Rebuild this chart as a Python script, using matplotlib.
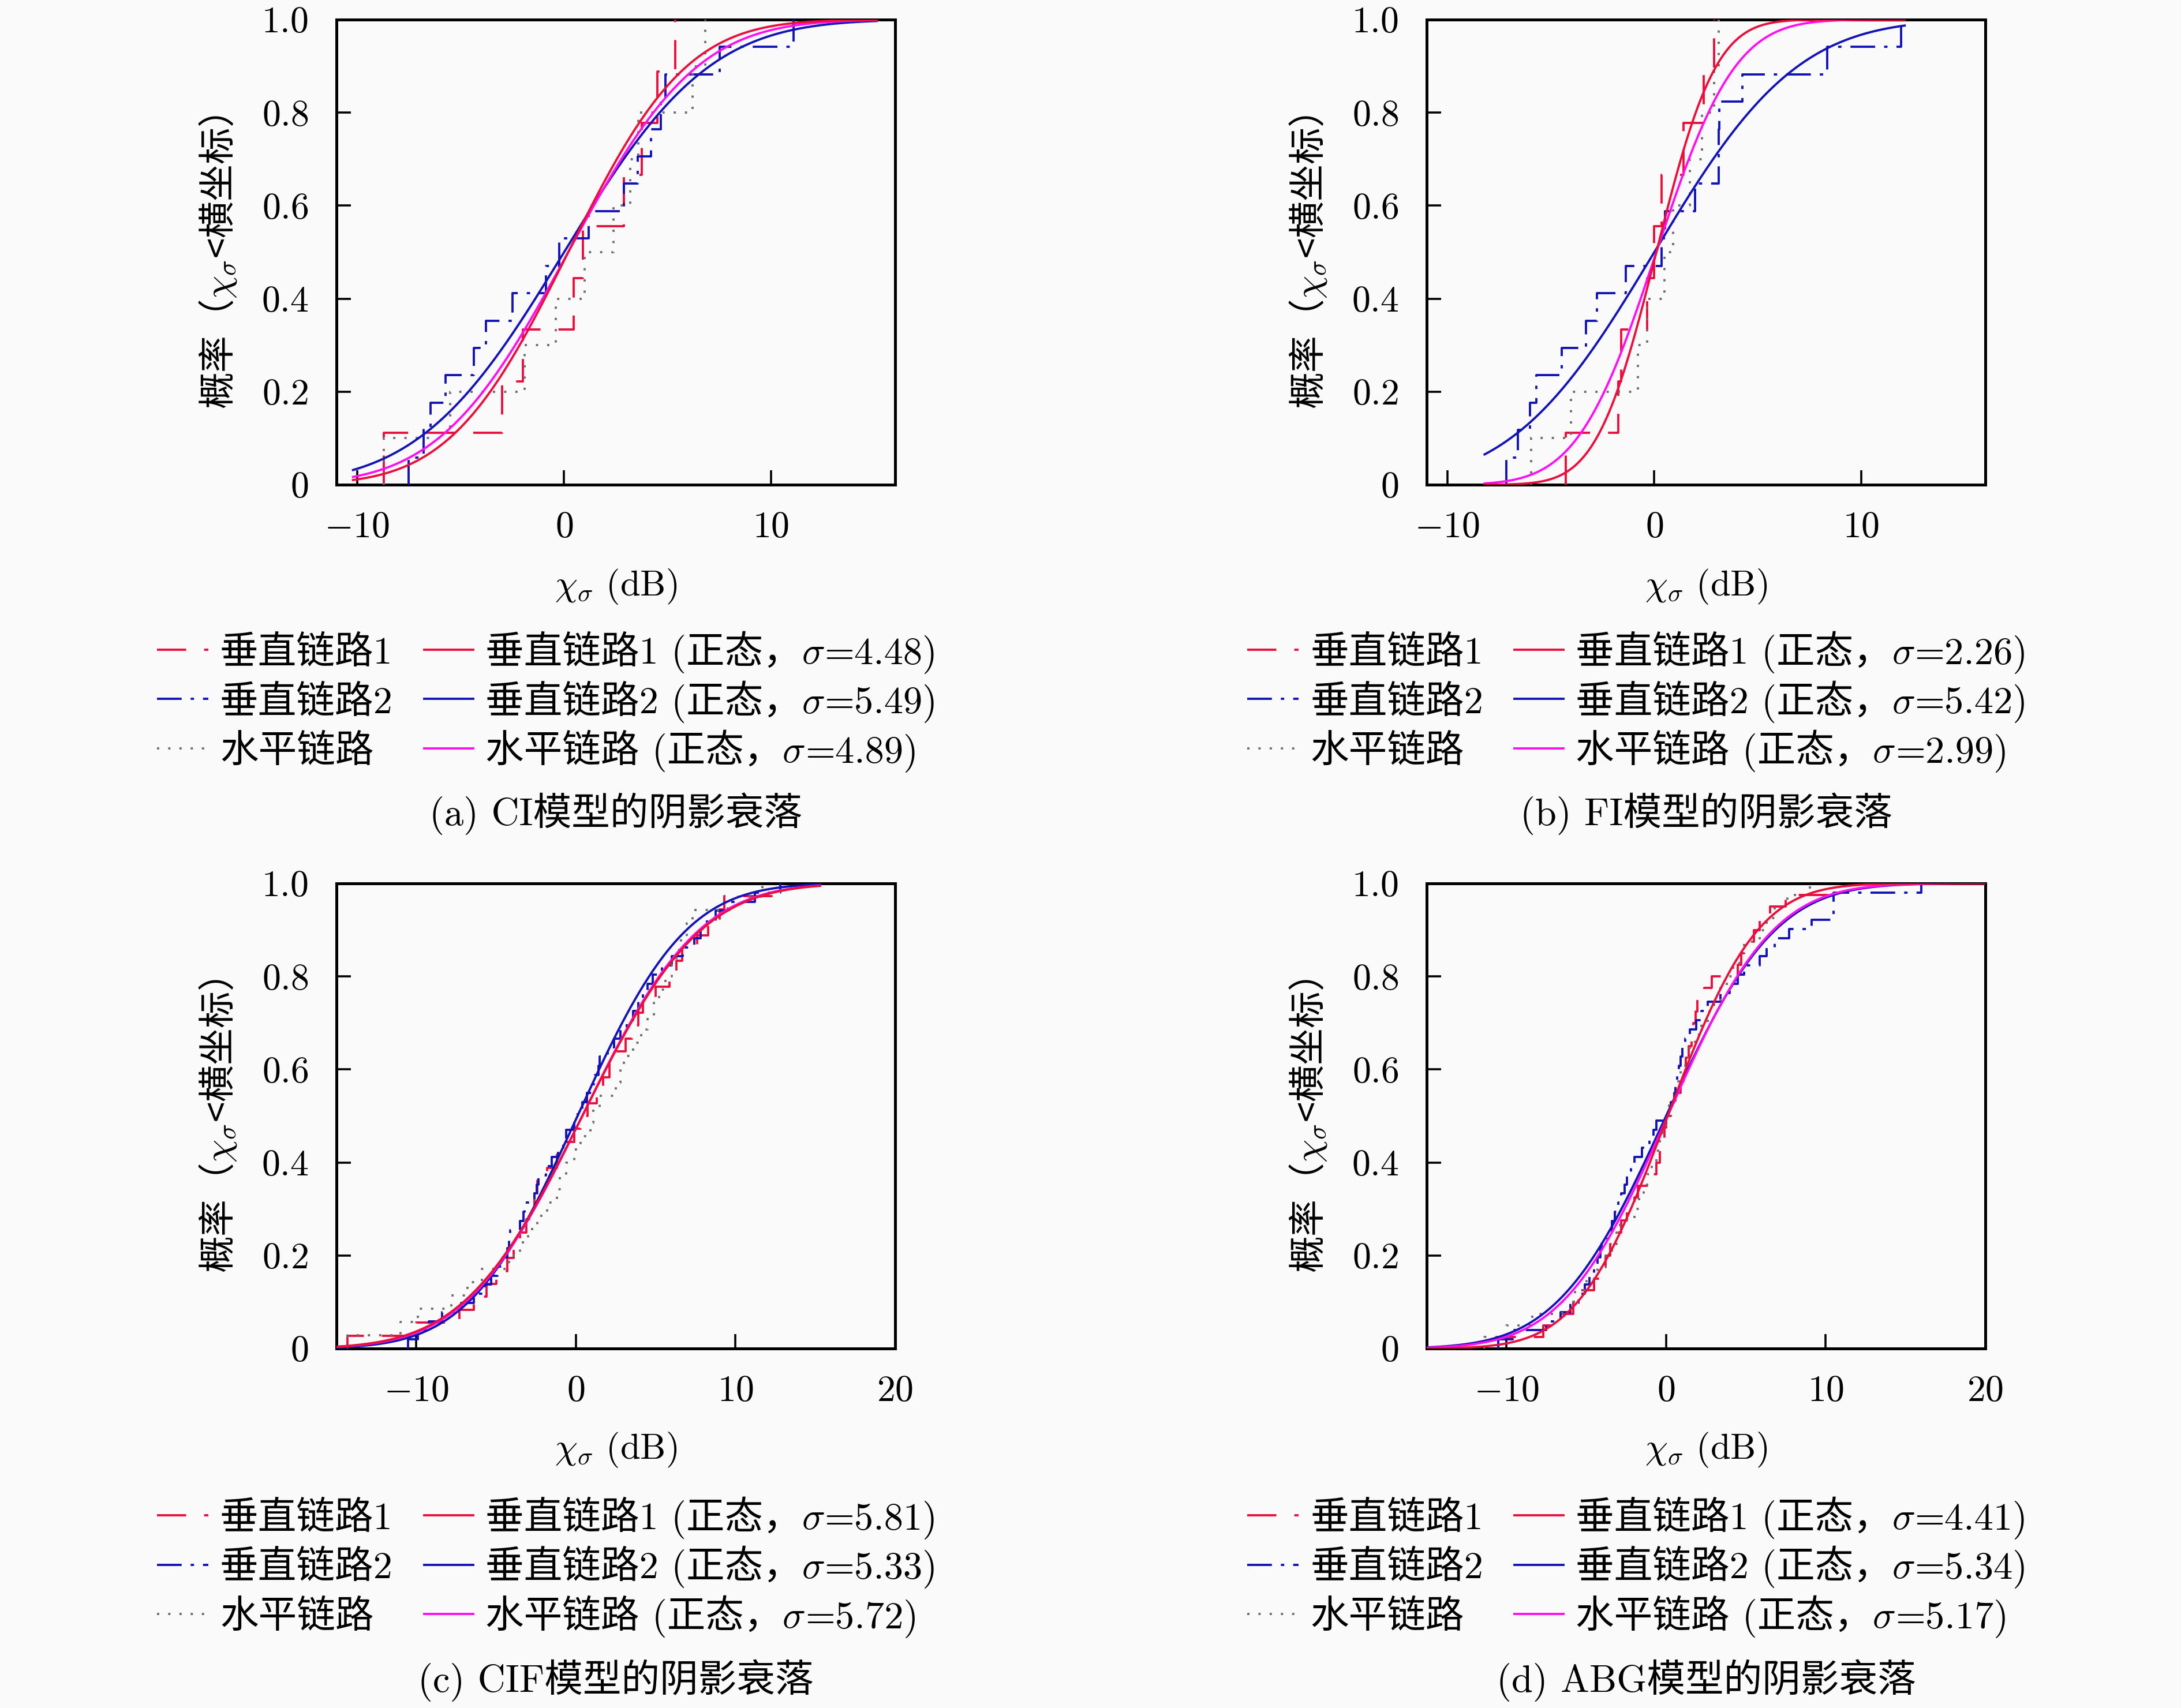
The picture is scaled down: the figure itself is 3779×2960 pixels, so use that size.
import numpy as np
import matplotlib
matplotlib.use('Agg')
import matplotlib.pyplot as plt
from matplotlib.lines import Line2D
from math import erf, sqrt

plt.rcParams['font.family'] = ['cmr10', 'Noto Sans CJK SC', 'DejaVu Sans']
plt.rcParams['mathtext.fontset'] = 'cm'
plt.rcParams['axes.unicode_minus'] = False
plt.rcParams['axes.formatter.use_mathtext'] = True

# ---------------- data ----------------
series_names = ['垂直链路1', '垂直链路2', '水平链路']
captions = ['(a) CI模型的阴影衰落', '(b) FI模型的阴影衰落',
            '(c) CIF模型的阴影衰落', '(d) ABG模型的阴影衰落']

ci_v1 = [-8.7, -3.0, -2.0, 0.46, 0.9, 2.9, 3.75, 4.5, 5.37]
ci_v2 = [-7.52, -6.78, -6.44, -5.74, -4.35, -3.77, -2.5, -0.88, -0.23, 1.2,
         2.9, 3.56, 4.2, 4.68, 4.9, 7.52, 11.1]
ci_h = [-8.7, -5.5, -1.9, -0.4, 1.0, 2.4, 3.2, 3.6, 6.2, 6.83]

fi_v1 = [-4.27, -1.73, -1.6, -0.35, 0.0, 0.35, 1.4, 2.4, 2.9]
fi_v2 = [-7.16, -6.58, -6.0, -5.7, -4.46, -3.3, -2.77, -1.39, 0.35, 0.53,
         1.96, 3.1, 3.12, 3.14, 4.27, 8.36, 11.94]
fi_h = [-5.94, -4.04, -0.8, -0.35, 0.5, 0.92, 1.73, 2.3, 2.9, 3.1]

cif_v1 = [-14.3, -10.0, -7.3, -6.4, -5.6, -5.0, -4.3, -3.9, -3.5, -3.1,
          -2.8, -2.6, -2.4, -1.8, -1.2, -0.6, -0.1, 0.3, 0.74, 1.3,
          1.7, 2.1, 2.5, 3.1, 3.5, 3.9, 4.2, 5.0, 5.85, 6.3,
          6.65, 7.6, 8.3, 9.0, 9.3, 12.5]
cif_v2 = [-10.5, -9.9, -9.2, -8.4, -7.2, -6.4, -5.7, -5.3, -4.9, -4.6,
          -4.3, -4.2, -4.13, -3.5, -3.3, -3.2, -2.6, -2.45, -2.35, -1.86,
          -1.5, -1.1, -0.8, -0.6, -0.1, 0.1, 0.4, 0.7, 1.0, 1.2,
          1.4, 1.5, 2.0, 2.4, 2.8, 3.2, 3.6, 3.9, 4.2, 4.5,
          4.8, 5.4, 6.0, 6.7, 7.4, 7.8, 8.2, 8.75, 9.5, 11.2, 12.8]
cif_h = [-14.3, -11.0, -9.9, -7.8, -6.8, -5.9, -4.2, -3.5, -3.0, -2.4,
         -1.8, -1.2, -1.0, -0.6, -0.1, 0.3, 0.9, 1.1, 1.5, 2.5,
         2.8, 3.0, 3.6, 4.1, 4.5, 4.9, 5.2, 5.6, 6.0, 6.3,
         6.6, 6.95, 7.3, 9.7, 11.7]

abg_v1 = [-10.5, -7.7, -6.6, -5.8, -5.4, -4.5, -4.05, -3.8, -3.5, -3.2,
          -2.8, -2.45, -2.0, -1.75, -0.8, -0.6, -0.4, -0.3, -0.1, 0.0,
          0.3, 0.6, 0.9, 1.1, 1.25, 1.4, 1.6, 1.7, 1.85, 1.95,
          2.4, 2.85, 4.5, 4.7, 4.9, 5.5, 5.85, 6.5, 7.5, 10.2]
abg_v2 = [-10.5, -9.6, -7.5, -6.6, -6.0, -5.5, -5.1, -4.8, -4.5, -4.3,
          -4.1, -4.05, -3.6, -3.4, -3.2, -3.0, -2.8, -2.6, -2.45, -2.2,
          -2.0, -1.5, -1.06, -0.8, -0.6, 0.1, 0.3, 0.5, 0.6, 0.7,
          0.8, 0.9, 1.0, 1.2, 1.5, 1.9, 2.2, 2.6, 3.4, 4.0,
          4.5, 4.9, 5.85, 6.3, 6.8, 7.7, 9.1, 10.5, 10.5, 10.5, 16.0]
abg_h = [-11.4, -10.0, -8.4, -6.5, -5.7, -5.0, -4.3, -3.8, -3.4, -3.1,
         -2.9, -2.0, -1.7, -1.4, -1.2, -0.9, -0.6, -0.4, -0.2, 0.0,
         0.2, 0.5, 0.7, 0.9, 1.2, 1.5, 1.8, 2.2, 2.6, 3.0,
         3.4, 3.8, 4.2, 4.6, 4.9, 5.85, 6.3, 6.8, 7.6, 9.0]

# fitted normal distributions (sigma from legends, mean estimated)
ci_sigma = [4.48, 5.49, 4.89]
fi_sigma = [2.26, 5.42, 2.99]
cif_sigma = [5.81, 5.33, 5.72]
abg_sigma = [4.41, 5.34, 5.17]
ci_mu = [0.2, 0.0, 0.2]
fi_mu = [0.1, 0.0, 0.1]
cif_mu = [0.4, 0.1, 0.4]
abg_mu = [0.1, 0.0, 0.1]
ci_fit_range = [-10.2, 15.1]
fi_fit_range = [-8.2, 12.1]
cif_fit_range = [-15.5, 15.3]
abg_fit_range = [-15.5, 20.0]

ci_xlim = [-11, 16]
fi_xlim = [-11, 16]
cif_xlim = [-15, 20]
abg_xlim = [-15, 20]
ab_xticks = [-10, 0, 10]
cd_xticks = [-10, 0, 10, 20]
yticks = [0, 0.2, 0.4, 0.6, 0.8, 1.0]
ytick_labels = ['0', '0.2', '0.4', '0.6', '0.8', '1.0']

# ---------------- style ----------------
BG = '#FAFAFA'
C_RED = '#E8103C'
C_BLUE = '#1414B4'
C_GRAY = '#6E6E6E'
C_MAG = '#FF10F0'
LW = 1.4
ecdf_colors = [C_RED, C_BLUE, C_GRAY]
ecdf_ls = [(0, (13, 8)), (0, (11, 4, 1.5, 4)), (0, (1, 4))]
fit_colors = [C_RED, C_BLUE, C_MAG]
fit_z = [6, 4, 5]

FS_TICK = 23
FS_LAB = 22.5
FS_YLAB = 23
FS_LEG = 24

panels = [
    dict(samples=[ci_v1, ci_v2, ci_h], sigma=ci_sigma, mu=ci_mu, rng=ci_fit_range,
         xlim=ci_xlim, xticks=ab_xticks, cap=captions[0]),
    dict(samples=[fi_v1, fi_v2, fi_h], sigma=fi_sigma, mu=fi_mu, rng=fi_fit_range,
         xlim=fi_xlim, xticks=ab_xticks, cap=captions[1]),
    dict(samples=[cif_v1, cif_v2, cif_h], sigma=cif_sigma, mu=cif_mu, rng=cif_fit_range,
         xlim=cif_xlim, xticks=cd_xticks, cap=captions[2]),
    dict(samples=[abg_v1, abg_v2, abg_h], sigma=abg_sigma, mu=abg_mu, rng=abg_fit_range,
         xlim=abg_xlim, xticks=cd_xticks, cap=captions[3]),
]

W, H = 3780, 2960
fig = plt.figure(figsize=(W / 200, H / 200), dpi=200, facecolor=BG)
renderer = fig.canvas.get_renderer()

ax_left_px = [583, 2472, 583, 2472]
ax_top_px = [34, 34, 1531, 1531]
ax_w_px, ax_h_px = 968, 806
leg_row0_px = [1126, 1126, 2626, 2626]   # y of first legend row (handle line)
leg_row_step = 85.5
cap_y_px = [1410, 1410, 2912, 2912]


def fx(px):
    return px / W


def fy(py):
    return 1 - py / H


def norm_cdf(x, mu, s):
    return np.array([0.5 * (1 + erf((v - mu) / (s * sqrt(2)))) for v in x])


def draw_pieces(x_px, y_px, pieces):
    """Write text pieces one after another on a common baseline."""
    for s in pieces:
        t = fig.text(fx(x_px), fy(y_px), s, fontsize=FS_LEG, ha='left', va='baseline')
        bb = t.get_window_extent(renderer)
        x_px = bb.x1


def legend_handle(x0, x1, y, color, ls):
    fig.add_artist(Line2D([fx(x0), fx(x1)], [fy(y), fy(y)], transform=fig.transFigure,
                          color=color, linestyle=ls, lw=LW))


for k, p in enumerate(panels):
    l = ax_left_px[k] / W
    b = 1 - (ax_top_px[k] + ax_h_px) / H
    ax = fig.add_axes([l, b, ax_w_px / W, ax_h_px / H])
    ax.set_facecolor(BG)
    for i, smp in enumerate(p['samples']):
        xs = np.sort(np.asarray(smp, dtype=float))
        n = len(xs)
        ys = np.arange(1, n + 1) / n
        xx = np.r_[xs[0], xs]
        yy = np.r_[0.0, ys]
        ax.step(xx, yy, where='post', lw=LW, color=ecdf_colors[i],
                linestyle=ecdf_ls[i], zorder=3, label=series_names[i])
    xg = np.linspace(p['rng'][0], p['rng'][1], 500)
    for i in range(3):
        ax.plot(xg, norm_cdf(xg, p['mu'][i], p['sigma'][i]), color=fit_colors[i],
                lw=LW, zorder=fit_z[i])
    ax.set_xlim(p['xlim'])
    ax.set_ylim(0, 1)
    ax.set_xticks(p['xticks'])
    ax.set_xticklabels(['$%d$' % t for t in p['xticks']])
    ax.set_yticks(yticks)
    ax.set_yticklabels(['$%s$' % t for t in ytick_labels])
    ax.tick_params(direction='in', length=9, width=1.3, labelsize=FS_TICK,
                   top=False, right=False)
    ax.tick_params(axis='x', pad=16.5)
    ax.tick_params(axis='y', pad=17.5)
    for sp in ax.spines.values():
        sp.set_linewidth(1.8)
    ax.set_xlabel('$\\chi_\\sigma$ (dB)', fontsize=FS_LAB, va='center')
    ax.xaxis.set_label_coords(0.5, -(1015 - 839) / ax_h_px)
    ax.set_ylabel('概率（$\\chi_\\sigma$<横坐标）', fontsize=FS_YLAB, va='center',
                  fontfamily='Noto Sans CJK SC')
    ax.yaxis.set_label_coords((378 - 583) / ax_w_px, 0.479)

    # legend: two columns, three rows
    L = ax_left_px[k]
    for r in range(3):
        y = leg_row0_px[k] + r * leg_row_step
        base = y + 24
        legend_handle(L - 311, L - 222, y, ecdf_colors[r], ecdf_ls[r])
        draw_pieces(L - 202, base, [series_names[r]])
        legend_handle(L + 152, L + 237, y, fit_colors[r], '-')
        draw_pieces(L + 258, base, [series_names[r] + ' (正态，', '$\\sigma$',
                                    '=%.2f)' % p['sigma'][r]])

    fig.text(fx(L + ax_w_px / 2), fy(cap_y_px[k]), p['cap'],
             ha='center', va='center', fontsize=FS_LEG)

fig.savefig('out.png', dpi=200, facecolor=BG)
